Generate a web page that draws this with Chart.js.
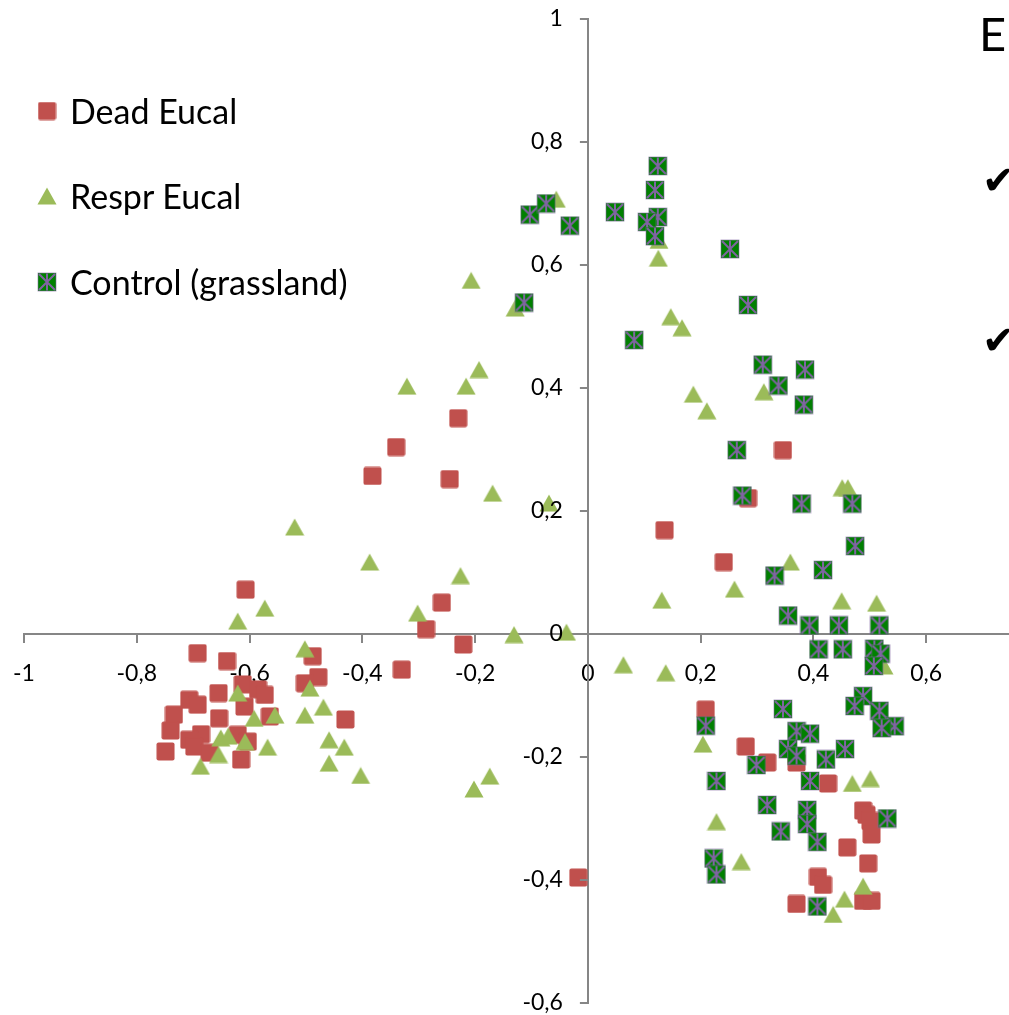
<!DOCTYPE html>
<html>
<head>
<meta charset="utf-8">
<script src="https://cdn.jsdelivr.net/npm/chart.js@4.4.0/dist/chart.umd.min.js"></script>
<style>
  html, body { margin: 0; padding: 0; background: #fff; width: 1009px; height: 1015px; overflow: hidden; }
  #wrap { position: relative; width: 1009px; height: 1015px; overflow: hidden; }
  #graphic { position: absolute; left: 0; top: 0; }
  .row { position: absolute; left: 37px; height: 40px; line-height: 40px; font-family: Lato, sans-serif; font-size: 34px; color: #000; white-space: nowrap; }
  .row canvas { position: absolute; left: 0; top: 10px; }
  .row span { position: absolute; left: 33px; top: 0; }
  .side { position: absolute; color: #000; line-height: 1; }
</style>
</head>
<body>
<div id="wrap">
  <canvas id="graphic" width="1100" height="1015"></canvas>
  <div class="row" style="top:91px"><canvas id="lg0" width="20" height="20"></canvas><span>Dead Eucal</span></div>
  <div class="row" style="top:176px"><canvas id="lg1" width="20" height="20"></canvas><span>Respr Eucal</span></div>
  <div class="row" style="top:262px"><canvas id="lg2" width="20" height="20"></canvas><span>Control (grassland)</span></div>
  <div class="side" style="left:979px;top:10px;font-family:Lato,sans-serif;font-size:47px;">E</div>
  <div class="side" style="left:982px;top:160px;font-family:'DejaVu Sans',sans-serif;font-size:40px;">✔</div>
  <div class="side" style="left:982px;top:320px;font-family:'DejaVu Sans',sans-serif;font-size:40px;">✔</div>
</div>
<script>
// PCA scores, [x, y]
const deadEucal = [
  [-0.607, 0.072], [-0.692, -0.031], [-0.640, -0.044], [-0.488, -0.036], [-0.478, -0.070],
  [-0.502, -0.080], [-0.612, -0.082], [-0.585, -0.090], [-0.573, -0.099], [-0.655, -0.096],
  [-0.707, -0.107], [-0.692, -0.115], [-0.734, -0.131], [-0.609, -0.118], [-0.564, -0.134],
  [-0.654, -0.137], [-0.740, -0.157], [-0.686, -0.163], [-0.707, -0.172], [-0.698, -0.183],
  [-0.621, -0.164], [-0.603, -0.175], [-0.671, -0.193], [-0.749, -0.191], [-0.615, -0.204],
  [-0.430, -0.139],
  [-0.230, 0.351], [-0.340, 0.304], [-0.382, 0.257], [-0.245, 0.252], [-0.259, 0.051],
  [-0.287, 0.008], [-0.221, -0.017], [-0.330, -0.058],
  [-0.017, -0.396], [0.136, 0.169], [0.241, 0.117], [0.284, 0.221], [0.346, 0.299],
  [0.209, -0.123], [0.280, -0.183], [0.318, -0.209], [0.370, -0.209], [0.426, -0.243],
  [0.488, -0.287], [0.494, -0.294], [0.501, -0.304], [0.503, -0.326], [0.460, -0.347],
  [0.497, -0.373], [0.408, -0.395], [0.417, -0.408], [0.370, -0.439], [0.488, -0.434],
  [0.503, -0.434]
];

const resprEucal = [
  [-0.573, 0.042], [-0.621, 0.021], [-0.502, -0.024], [-0.493, -0.088], [-0.469, -0.119],
  [-0.502, -0.132], [-0.621, -0.096], [-0.592, -0.137], [-0.555, -0.132], [-0.651, -0.169],
  [-0.638, -0.166], [-0.608, -0.175], [-0.655, -0.196], [-0.568, -0.184], [-0.687, -0.215],
  [-0.459, -0.172], [-0.432, -0.184], [-0.459, -0.210], [-0.403, -0.230],
  [-0.207, 0.575], [-0.129, 0.530], [-0.193, 0.430], [-0.321, 0.403], [-0.216, 0.403],
  [-0.169, 0.229], [-0.069, 0.213], [-0.520, 0.174], [-0.387, 0.117], [-0.226, 0.095],
  [-0.302, 0.034], [-0.131, -0.001], [-0.038, 0.003], [-0.174, -0.231], [-0.202, -0.252],
  [-0.056, 0.707],
  [0.126, 0.640], [0.125, 0.611], [0.147, 0.516], [0.167, 0.498], [0.187, 0.390],
  [0.312, 0.394], [0.211, 0.363], [0.451, 0.238], [0.461, 0.238], [0.359, 0.117],
  [0.260, 0.073], [0.131, 0.055], [0.450, 0.054], [0.512, 0.050],
  [0.063, -0.050], [0.138, -0.063], [0.525, -0.052], [0.204, -0.179], [0.469, -0.243],
  [0.501, -0.235], [0.228, -0.305], [0.272, -0.370], [0.488, -0.410], [0.455, -0.431],
  [0.435, -0.456]
];

const controlGrass = [
  [-0.113, 0.539], [-0.103, 0.682], [-0.074, 0.700], [-0.032, 0.664], [0.048, 0.686],
  [0.124, 0.761], [0.119, 0.722], [0.124, 0.678], [0.105, 0.670], [0.119, 0.647],
  [0.252, 0.626], [0.284, 0.535], [0.082, 0.478], [0.310, 0.438], [0.338, 0.404],
  [0.385, 0.430], [0.383, 0.373], [0.264, 0.299], [0.274, 0.225], [0.379, 0.212],
  [0.469, 0.212], [0.474, 0.143], [0.417, 0.104], [0.331, 0.095], [0.355, 0.030],
  [0.393, 0.014], [0.445, 0.014], [0.517, 0.014], [0.409, -0.025], [0.452, -0.025],
  [0.508, -0.024], [0.519, -0.032], [0.507, -0.052], [0.488, -0.101], [0.473, -0.117],
  [0.517, -0.125], [0.346, -0.122], [0.544, -0.150], [0.521, -0.153], [0.209, -0.149],
  [0.370, -0.158], [0.394, -0.162], [0.355, -0.187], [0.370, -0.198], [0.456, -0.187],
  [0.422, -0.204], [0.299, -0.213], [0.394, -0.239], [0.228, -0.239], [0.318, -0.278],
  [0.389, -0.286], [0.389, -0.309], [0.531, -0.300], [0.342, -0.321], [0.407, -0.338],
  [0.223, -0.365], [0.228, -0.391], [0.407, -0.443]
];

const seriesNames = ["Dead Eucal", "Respr Eucal", "Control (grassland)"];

const axisGrey = "#868686";
const tickFont = { family: "Lato", size: 23 };

// marker images (Excel-like)
function mkCanvas(w, h) {
  const c = document.createElement("canvas");
  c.width = w; c.height = h;
  return c;
}

const squareMark = mkCanvas(19, 19);
(() => {
  const g = squareMark.getContext("2d");
  g.fillStyle = "#C0504D";
  g.beginPath();
  g.roundRect(0.5, 0.5, 18, 18, 2);
  g.fill();
})();

const triMark = mkCanvas(20, 18);
(() => {
  const g = triMark.getContext("2d");
  g.fillStyle = "#9BBB59";
  g.beginPath();
  g.moveTo(10, 0.5);
  g.lineTo(19.5, 17.5);
  g.lineTo(0.5, 17.5);
  g.closePath();
  g.fill();
})();

const ctrlMark = mkCanvas(20, 20);
(() => {
  const g = ctrlMark.getContext("2d");
  g.fillStyle = "#008000";
  g.fillRect(1, 1, 18, 18);
  g.strokeStyle = "#8064A2";
  g.lineWidth = 2;
  g.beginPath();
  g.moveTo(2, 2); g.lineTo(18, 18);
  g.moveTo(18, 2); g.lineTo(2, 18);
  g.moveTo(10, 1.5); g.lineTo(10, 18.5);
  g.stroke();
  g.lineWidth = 0.8;
  g.strokeStyle = "rgba(128,100,162,0.7)";
  g.strokeRect(1, 1, 18, 18);
})();

const marks = [squareMark, triMark, ctrlMark];
marks.forEach((m, i) => {
  const g = document.getElementById("lg" + i).getContext("2d");
  g.drawImage(m, (20 - m.width) / 2, (20 - m.height) / 2);
});

const fmt = (v) => String(Math.round(v * 10) / 10).replace(".", ",");
const toPts = (arr) => arr.map(p => ({ x: p[0], y: p[1] }));
const noPad = (s) => { s.paddingLeft = 0; s.paddingRight = 0; s.paddingTop = 0; s.paddingBottom = 0; };

// y axis sits on x = 0; Chart.js puts its labels flush on the line there,
// so tick marks + labels are drawn here, left of the axis, Excel style
const yAxisLabels = {
  id: "yAxisLabels",
  afterDraw(chart) {
    const { ctx, scales: { x, y } } = chart;
    const x0 = x.getPixelForValue(0);
    ctx.save();
    ctx.font = tickFont.size + "px " + tickFont.family;
    ctx.fillStyle = "#000";
    ctx.textAlign = "right";
    ctx.textBaseline = "middle";
    ctx.strokeStyle = axisGrey;
    ctx.lineWidth = 2;
    y.ticks.forEach(t => {
      const py = Math.round(y.getPixelForValue(t.value));
      ctx.beginPath();
      ctx.moveTo(x0 - 8, py);
      ctx.lineTo(x0, py);
      ctx.stroke();
      ctx.fillText(fmt(t.value), x0 - 25, py);
    });
    ctx.restore();
  }
};

const ctx = document.getElementById("graphic");

const chart = new Chart(ctx, {
  type: "scatter",
  data: {
    datasets: [{
      label: seriesNames[0],
      data: toPts(deadEucal),
      pointStyle: squareMark,
      pointRadius: 10,
      order: 3
    }, {
      label: seriesNames[1],
      data: toPts(resprEucal),
      pointStyle: triMark,
      pointRadius: 10,
      order: 2
    }, {
      label: seriesNames[2],
      data: toPts(controlGrass),
      pointStyle: ctrlMark,
      pointRadius: 10,
      order: 1
    }]
  },
  options: {
    responsive: false,
    animation: false,
    layout: { padding: { left: 24, top: 19, right: 61, bottom: 12 } },
    plugins: {
      legend: { display: false },
      tooltip: { enabled: false }
    },
    scales: {
      x: {
        type: "linear",
        position: { y: 0 },
        min: -1,
        max: 0.8,
        afterFit: noPad,
        ticks: {
          stepSize: 0.2,
          padding: 18,
          color: "#000",
          font: tickFont,
          maxRotation: 0,
          autoSkip: false,
          callback: fmt
        },
        grid: { drawOnChartArea: false, drawTicks: true, tickLength: 8, color: axisGrey, lineWidth: 2 },
        border: { color: axisGrey, width: 2 }
      },
      y: {
        type: "linear",
        position: { x: 0 },
        min: -0.6,
        max: 1,
        afterFit: noPad,
        ticks: { stepSize: 0.2, display: false },
        grid: { drawOnChartArea: false, drawTicks: false },
        border: { color: axisGrey, width: 2 }
      }
    }
  },
  plugins: [yAxisLabels]
});
</script>
</body>
</html>
